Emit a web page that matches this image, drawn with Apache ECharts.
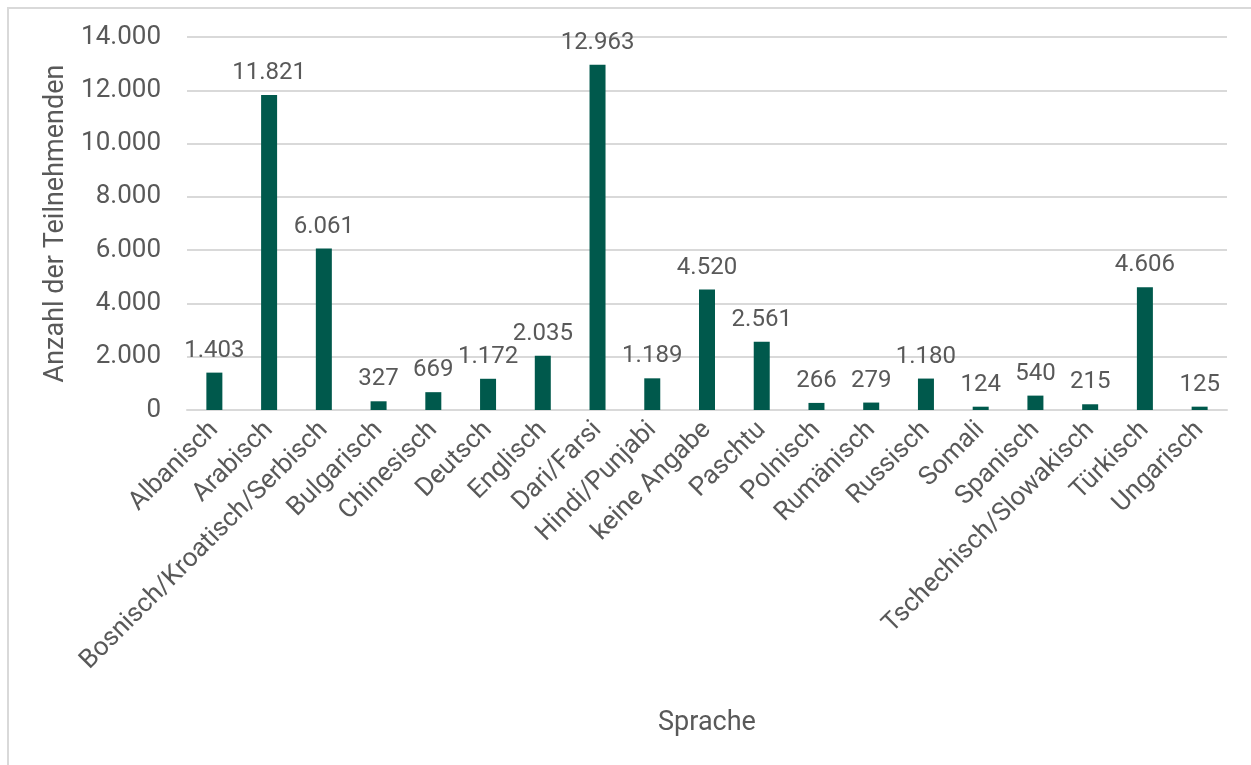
<!DOCTYPE html>
<html>
<head>
<meta charset="utf-8">
<script src="https://cdn.jsdelivr.net/npm/echarts@6/dist/echarts.min.js"></script>
<style>
html,body{margin:0;padding:0;background:#fff;}
#frame{position:absolute;left:7px;top:7px;width:1260px;height:780px;border:2px solid #d9d9d9;box-sizing:border-box;}
#chart{position:absolute;left:0;top:0;width:1251px;height:765px;}
</style>
</head>
<body>
<div id="frame"></div>
<div id="chart"></div>
<script>
const categories = ["Albanisch","Arabisch","Bosnisch/Kroatisch/Serbisch","Bulgarisch","Chinesisch","Deutsch","Englisch","Dari/Farsi","Hindi/Punjabi","keine Angabe","Paschtu","Polnisch","Rumänisch","Russisch","Somali","Spanisch","Tschechisch/Slowakisch","Türkisch","Ungarisch"];
const values = [1403,11821,6061,327,669,1172,2035,12963,1189,4520,2561,266,279,1180,124,540,215,4606,125];
const yTicks = [0,2000,4000,6000,8000,10000,12000,14000];

function fmt(v){ return String(v).replace(/\B(?=(\d{3})+(?!\d))/g, '.'); }

const chart = echarts.init(document.getElementById('chart'));
chart.setOption({
  animation:false,
  textStyle:{fontFamily:'Roboto'},
  grid:{left:187,right:24,top:37,bottom:355,containLabel:false},
  xAxis:{
    type:'category',
    data:categories,
    name:'Sprache',
    nameLocation:'middle',
    nameGap:300,
    nameTextStyle:{color:'#595959',fontSize:27,fontFamily:'Roboto'},
    axisLine:{show:true,lineStyle:{color:'#d9d9d9',width:2}},
    axisTick:{show:false},
    axisLabel:{rotate:45,interval:0,color:'#595959',fontSize:26,margin:16,fontFamily:'Roboto'}
  },
  yAxis:{
    type:'value',
    min:yTicks[0],
    max:yTicks[yTicks.length-1],
    interval:2000,
    name:'Anzahl der Teilnehmenden',
    nameLocation:'middle',
    nameGap:116,
    nameTextStyle:{color:'#595959',fontSize:27,fontFamily:'Roboto'},
    axisLine:{show:false},
    axisTick:{show:false},
    splitLine:{lineStyle:{color:'#d9d9d9',width:2}},
    axisLabel:{color:'#595959',fontSize:26,margin:26,fontFamily:'Roboto',formatter:fmt}
  },
  series:[{
    type:'bar',
    data:values,
    barWidth:16,
    itemStyle:{color:'#00594c'},
    label:{show:true,position:'top',distance:10,color:'#595959',fontSize:24,fontFamily:'Roboto',formatter:p=>fmt(p.value)}
  }]
});
</script>
</body>
</html>
